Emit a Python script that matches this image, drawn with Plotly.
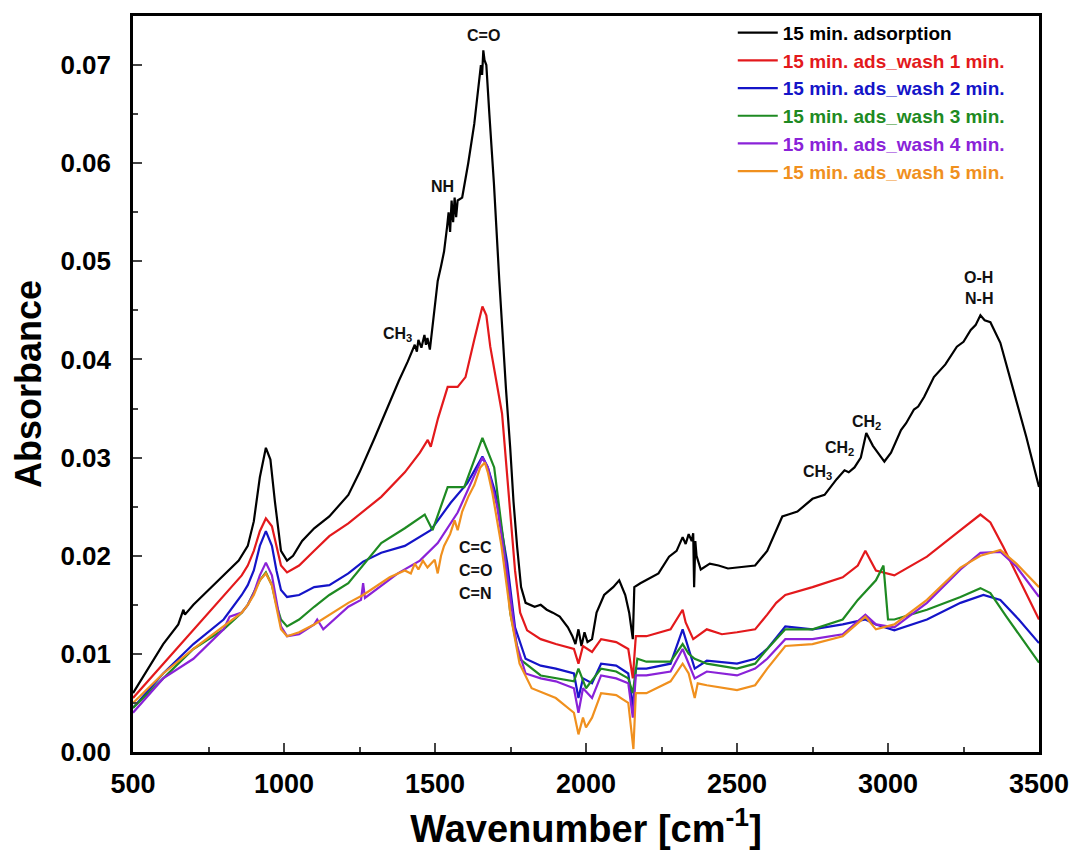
import plotly.graph_objects as go

# ---------------- data ----------------
x_black = [500, 550, 600, 650, 667, 672, 700, 750, 800, 850, 880, 900, 920, 940, 955, 970, 990, 1010, 1030,
           1060, 1100, 1150, 1213, 1250, 1300, 1322, 1350, 1380, 1410, 1420, 1433, 1440, 1445, 1455, 1465, 1470,
           1475, 1483, 1490, 1500, 1509, 1520, 1530, 1540, 1545, 1550, 1555, 1560, 1565, 1570, 1575, 1590,
           1610, 1630, 1645, 1652, 1656, 1660, 1664, 1670, 1680, 1695, 1713, 1722, 1735, 1749, 1760, 1772,
           1785, 1800, 1830, 1850, 1870, 1890, 1913, 1940, 1955, 1965, 1975, 1985, 1995, 2005, 2020, 2035,
           2060, 2090, 2110, 2130, 2143, 2155, 2160, 2180, 2199, 2240, 2275, 2300, 2320, 2330, 2340, 2350,
           2355, 2358, 2362, 2366, 2380, 2410, 2439, 2470, 2500, 2528, 2560, 2600, 2630, 2650, 2670, 2700,
           2750, 2790, 2830, 2856, 2870, 2889, 2910, 2928, 2950, 2988, 3010, 3043, 3060, 3086, 3100, 3120,
           3152, 3170, 3190, 3228, 3250, 3274, 3290, 3306, 3320, 3339, 3372, 3415, 3458, 3500]
y_black = [0.0060, 0.0085, 0.0110, 0.0130, 0.0145, 0.0140, 0.0150, 0.0165, 0.0180, 0.0195, 0.0210, 0.0235, 0.0280, 0.0310, 0.0298, 0.0255, 0.0205, 0.0195, 0.0200,
           0.0215, 0.0228, 0.0240, 0.0262, 0.0285, 0.0320, 0.0336, 0.0358, 0.0378, 0.0398, 0.0405, 0.0415, 0.0408, 0.0420, 0.0412, 0.0425, 0.0415,
           0.0422, 0.0410, 0.0430, 0.0455, 0.0480, 0.0495, 0.0510, 0.0535, 0.0550, 0.0530, 0.0562, 0.0540, 0.0565, 0.0545, 0.0562, 0.0565,
           0.0600, 0.0640, 0.0680, 0.0700, 0.0690, 0.0715, 0.0705, 0.0700, 0.0650, 0.0580, 0.0480, 0.0430, 0.0370, 0.0310, 0.0255, 0.0209,
           0.0168, 0.0152, 0.0148, 0.0150, 0.0145, 0.0142, 0.0138, 0.0127, 0.0118, 0.0110, 0.0125, 0.0108, 0.0122, 0.0112, 0.0115, 0.0142,
           0.0160, 0.0168, 0.0175, 0.0160, 0.0142, 0.0115, 0.0168, 0.0172, 0.0175, 0.0182, 0.0199, 0.0205, 0.0219, 0.0212, 0.0222, 0.0215,
           0.0223, 0.0168, 0.0215, 0.0200, 0.0186, 0.0192, 0.0190, 0.0187, 0.0188, 0.0189, 0.0190, 0.0205, 0.0225, 0.0240, 0.0242, 0.0245,
           0.0258, 0.0262, 0.0278, 0.0287, 0.0285, 0.0290, 0.0300, 0.0325, 0.0312, 0.0296, 0.0305, 0.0328, 0.0335, 0.0349, 0.0352, 0.0362,
           0.0382, 0.0388, 0.0395, 0.0413, 0.0418, 0.0430, 0.0435, 0.0445, 0.0440, 0.0438, 0.0417, 0.0369, 0.0321, 0.0270]

x_red = [500, 600, 700, 800, 860, 880, 900, 920, 940, 960, 975, 990, 1010, 1050, 1100, 1150, 1213, 1262, 1322,
         1400, 1450, 1476, 1486, 1510, 1542, 1575, 1601, 1630, 1657, 1670, 1683, 1722, 1749, 1765, 1782,
         1805, 1850, 1900, 1960, 1975, 1990, 2020, 2050, 2100, 2140, 2155, 2165, 2200, 2280, 2320, 2330,
         2355, 2400, 2450, 2500, 2560, 2600, 2630, 2660, 2750, 2850, 2900, 2925, 2960, 3021, 3129, 3240,
         3306, 3339, 3382, 3425, 3500]
y_red = [0.0055, 0.0090, 0.0125, 0.0160, 0.0180, 0.0190, 0.0205, 0.0225, 0.0238, 0.0230, 0.0210, 0.0190, 0.0183, 0.0190, 0.0205, 0.0220, 0.0233, 0.0245, 0.0260,
         0.0285, 0.0305, 0.0318, 0.0311, 0.0340, 0.0372, 0.0372, 0.0382, 0.0420, 0.0454, 0.0445, 0.0413, 0.0345, 0.0244, 0.0185, 0.0142,
         0.0124, 0.0115, 0.0110, 0.0105, 0.0090, 0.0108, 0.0102, 0.0115, 0.0112, 0.0105, 0.0075, 0.0118, 0.0118, 0.0125, 0.0145, 0.0132,
         0.0115, 0.0125, 0.0120, 0.0122, 0.0125, 0.0140, 0.0152, 0.0160, 0.0168, 0.0178, 0.0190, 0.0205, 0.0185, 0.0180, 0.0199, 0.0226,
         0.0242, 0.0234, 0.0209, 0.0182, 0.0135]

x_blue = [500, 600, 700, 800, 860, 880, 900, 920, 940, 960, 975, 990, 1010, 1050, 1100, 1150, 1213, 1262, 1322,
          1400, 1486, 1552, 1607, 1657, 1675, 1700, 1739, 1765, 1800, 1850, 1900, 1960, 1975, 1990, 2020,
          2050, 2100, 2140, 2155, 2165, 2200, 2280, 2320, 2340, 2360, 2400, 2500, 2560, 2600, 2660, 2750,
          2850, 2925, 2960, 3021, 3129, 3240, 3316, 3372, 3433, 3500]
y_blue = [0.0045, 0.0080, 0.0110, 0.0135, 0.0160, 0.0170, 0.0185, 0.0210, 0.0225, 0.0210, 0.0185, 0.0165, 0.0158, 0.0160, 0.0168, 0.0170, 0.0182, 0.0194, 0.0203,
          0.0210, 0.0226, 0.0254, 0.0274, 0.0301, 0.0290, 0.0264, 0.0193, 0.0127, 0.0095, 0.0088, 0.0085, 0.0080, 0.0055, 0.0075, 0.0070,
          0.0090, 0.0088, 0.0080, 0.0045, 0.0085, 0.0085, 0.0090, 0.0125, 0.0105, 0.0085, 0.0093, 0.0090, 0.0095, 0.0105, 0.0128, 0.0125,
          0.0130, 0.0135, 0.0130, 0.0124, 0.0135, 0.0152, 0.0160, 0.0155, 0.0135, 0.0111]

x_green = [500, 600, 700, 800, 860, 880, 900, 920, 940, 960, 975, 990, 1010, 1050, 1100, 1150, 1213, 1262, 1322,
           1400, 1466, 1492, 1542, 1597, 1657, 1696, 1729, 1749, 1780, 1850, 1900, 1960, 1975, 2000, 2050,
           2100, 2140, 2155, 2170, 2200, 2280, 2320, 2340, 2360, 2400, 2500, 2560, 2600, 2660, 2750, 2850,
           2900, 2960, 2985, 3000, 3021, 3129, 3240, 3306, 3339, 3392, 3500]
y_green = [0.0045, 0.0075, 0.0105, 0.0125, 0.0142, 0.0150, 0.0162, 0.0175, 0.0183, 0.0170, 0.0150, 0.0135, 0.0128, 0.0135, 0.0148, 0.0160, 0.0172, 0.0190, 0.0213,
           0.0228, 0.0242, 0.0226, 0.0270, 0.0270, 0.0320, 0.0290, 0.0209, 0.0142, 0.0095, 0.0078, 0.0075, 0.0072, 0.0085, 0.0065, 0.0085,
           0.0082, 0.0075, 0.0060, 0.0095, 0.0092, 0.0092, 0.0110, 0.0100, 0.0095, 0.0090, 0.0085, 0.0090, 0.0105, 0.0125, 0.0125, 0.0135,
           0.0155, 0.0175, 0.0190, 0.0135, 0.0135, 0.0145, 0.0158, 0.0167, 0.0162, 0.0138, 0.0091]

x_purple = [500, 600, 700, 800, 820, 860, 880, 900, 920, 940, 960, 975, 990, 1010, 1050, 1100, 1110, 1130, 1213,
            1255, 1262, 1268, 1377, 1450, 1509, 1575, 1657, 1675, 1706, 1740, 1770, 1800, 1850, 1900, 1960,
            1975, 1990, 2020, 2050, 2100, 2140, 2155, 2165, 2200, 2280, 2320, 2340, 2360, 2400, 2500, 2560,
            2600, 2660, 2750, 2850, 2925, 2960, 3021, 3129, 3240, 3306, 3372, 3425, 3500]
y_purple = [0.0040, 0.0075, 0.0095, 0.0125, 0.0138, 0.0142, 0.0150, 0.0162, 0.0180, 0.0193, 0.0180, 0.0155, 0.0128, 0.0118, 0.0120, 0.0130, 0.0135, 0.0125, 0.0148,
            0.0155, 0.0172, 0.0157, 0.0182, 0.0195, 0.0213, 0.0244, 0.0300, 0.0290, 0.0250, 0.0180, 0.0110, 0.0080, 0.0075, 0.0072, 0.0065,
            0.0040, 0.0065, 0.0055, 0.0078, 0.0075, 0.0070, 0.0035, 0.0078, 0.0078, 0.0082, 0.0105, 0.0090, 0.0075, 0.0082, 0.0078, 0.0085,
            0.0095, 0.0115, 0.0115, 0.0120, 0.0140, 0.0130, 0.0127, 0.0152, 0.0186, 0.0203, 0.0204, 0.0189, 0.0158]

x_orange = [500, 600, 700, 800, 860, 880, 900, 920, 940, 960, 975, 990, 1010, 1050, 1100, 1213, 1262, 1350, 1400,
            1420, 1433, 1445, 1460, 1475, 1499, 1509, 1520, 1530, 1550, 1565, 1575, 1590, 1610, 1630, 1650,
            1665, 1675, 1690, 1720, 1750, 1780, 1820, 1900, 1960, 1975, 1990, 2000, 2020, 2050, 2100, 2140,
            2157, 2165, 2200, 2280, 2320, 2340, 2360, 2370, 2400, 2500, 2560, 2600, 2660, 2750, 2850, 2925,
            2960, 3021, 3129, 3240, 3306, 3372, 3425, 3500]
y_orange = [0.0050, 0.0080, 0.0105, 0.0128, 0.0142, 0.0150, 0.0160, 0.0175, 0.0182, 0.0170, 0.0148, 0.0125, 0.0118, 0.0122, 0.0130, 0.0152, 0.0160, 0.0178, 0.0185,
            0.0182, 0.0192, 0.0186, 0.0195, 0.0188, 0.0196, 0.0182, 0.0200, 0.0210, 0.0222, 0.0236, 0.0226, 0.0245, 0.0260, 0.0272, 0.0290,
            0.0295, 0.0285, 0.0264, 0.0210, 0.0140, 0.0090, 0.0065, 0.0055, 0.0040, 0.0018, 0.0035, 0.0025, 0.0035, 0.0060, 0.0058, 0.0050,
            0.0003, 0.0060, 0.0060, 0.0072, 0.0090, 0.0080, 0.0055, 0.0070, 0.0068, 0.0063, 0.0068, 0.0085, 0.0108, 0.0110, 0.0118, 0.0138,
            0.0125, 0.0130, 0.0155, 0.0188, 0.0200, 0.0206, 0.0192, 0.0168]

series_names = ["15 min. adsorption", "15 min. ads_wash 1 min.", "15 min. ads_wash 2 min.",
                "15 min. ads_wash 3 min.", "15 min. ads_wash 4 min.", "15 min. ads_wash 5 min."]
series_colors = ["#000000", "#e3191c", "#1414c8", "#1e8a22", "#8a22d8", "#f0901e"]

y_ticks = [0.00, 0.01, 0.02, 0.03, 0.04, 0.05, 0.06, 0.07]
x_ticks = [500, 1000, 1500, 2000, 2500, 3000, 3500]

band_labels = ["C=O", "NH", "CH<sub>3</sub>", "C=C", "C=O", "C=N",
               "CH<sub>3</sub>", "CH<sub>2</sub>", "CH<sub>2</sub>", "O-H", "N-H"]
band_x = [1660, 1525, 1377, 1634, 1634, 1634, 2767, 2840, 2929, 3300, 3300]
band_y = [0.0730, 0.0576, 0.0425, 0.0208, 0.01845, 0.0162, 0.0285, 0.0309, 0.0336, 0.0484, 0.0462]

# ---------------- figure ----------------
FONT = "Liberation Sans, Arial, sans-serif"
fig = go.Figure()
xs = [x_black, x_red, x_blue, x_green, x_purple, x_orange]
ys = [y_black, y_red, y_blue, y_green, y_purple, y_orange]
for name, col, xv, yv in zip(series_names, series_colors, xs, ys):
    fig.add_trace(go.Scatter(
        x=xv, y=yv, mode="lines", line=dict(color=col, width=2.2),
        name=f"<span style='color:{col}'>{name}</span>"))

for t, bx, by in zip(band_labels, band_x, band_y):
    fig.add_annotation(x=bx, y=by, xref="x", yref="y", text=t, showarrow=False,
                       font=dict(family=FONT, size=16, color="#111111", weight="bold"))

fig.update_layout(
    width=1081, height=863,
    margin=dict(l=133, r=35, t=16, b=111),
    plot_bgcolor="white", paper_bgcolor="white",
    showlegend=True,
    legend=dict(x=0.662, y=1.003, xanchor="left", yanchor="top",
                bgcolor="rgba(0,0,0,0)", borderwidth=0,
                font=dict(family=FONT, size=19, color="#000000", weight="bold"),
                tracegroupgap=0, itemwidth=40),
    xaxis=dict(range=[500, 3500], tickvals=x_ticks, ticks="inside", ticklen=9, tickwidth=2,
               minor=dict(ticks="inside", ticklen=5, tickwidth=2, dtick=250, tick0=500),
               showline=True, linewidth=2.5, linecolor="black", mirror=True, showgrid=False,
               zeroline=False,
               tickfont=dict(family=FONT, size=27, color="black", weight="bold"),
               ticklabelstandoff=6,
               title=dict(text="Wavenumber [cm<sup>-1</sup>]", standoff=18,
                          font=dict(family=FONT, size=38, color="black", weight="bold"))),
    yaxis=dict(range=[0, 0.075], tickvals=y_ticks, tickformat=".2f", ticks="inside", ticklen=9,
               tickwidth=2,
               minor=dict(ticks="inside", ticklen=5, tickwidth=2, dtick=0.005, tick0=0),
               showline=True, linewidth=2.5, linecolor="black", mirror=True, showgrid=False,
               zeroline=False,
               tickfont=dict(family=FONT, size=26, color="black", weight="bold"),
               ticklabelstandoff=14,
               title=dict(text="Absorbance", standoff=8,
                          font=dict(family=FONT, size=36, color="black", weight="bold"))),
)

fig.write_html("out.html")
